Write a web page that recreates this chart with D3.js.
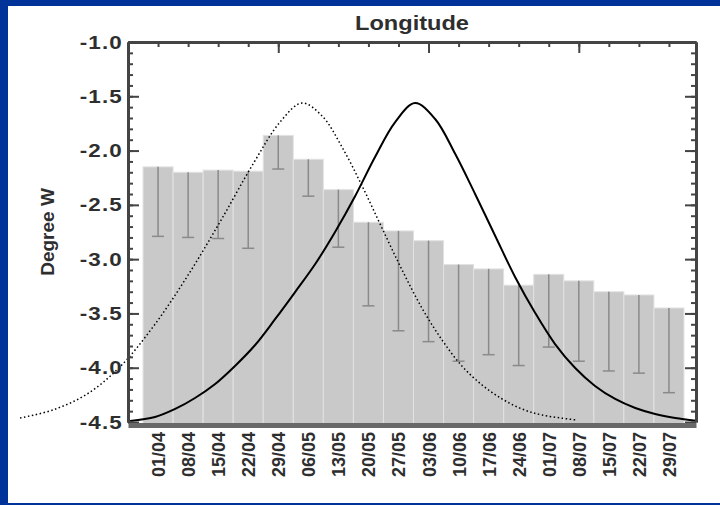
<!DOCTYPE html>
<html><head><meta charset="utf-8">
<script src="https://cdn.jsdelivr.net/npm/d3@7"></script>
<style>
body{margin:0;background:#003399;}
svg{display:block;}
</style>
</head><body>
<svg id="c" width="720" height="505"></svg>
<script>
// ---- data ----
const categories = ["01/04","08/04","15/04","22/04","29/04","06/05","13/05","20/05","27/05","03/06","10/06","17/06","24/06","01/07","08/07","15/07","22/07","29/07"];
const meanValues = [-2.15,-2.20,-2.18,-2.19,-1.86,-2.08,-2.36,-2.66,-2.74,-2.83,-3.05,-3.09,-3.24,-3.14,-3.20,-3.30,-3.33,-3.45];
const lowerValues = [-2.79,-2.80,-2.81,-2.90,-2.17,-2.42,-2.89,-3.43,-3.66,-3.76,-3.94,-3.88,-3.98,-3.81,-3.94,-4.03,-4.05,-4.23];
const yTickLabels = ["-1.0","-1.5","-2.0","-2.5","-3.0","-3.5","-4.0","-4.5"];
const yTickValues = [-1.0,-1.5,-2.0,-2.5,-3.0,-3.5,-4.0,-4.5];
const solidX = [0.07,0.90,1.57,2.23,2.90,3.56,4.23,4.90,5.56,6.23,6.89,7.56,8.22,8.89,9.55,10.22,10.89,11.55,12.22,12.88,13.55,14.21,14.88,15.54,16.21,16.88,17.54,18.21,18.90];
const solidY = [-4.491,-4.454,-4.380,-4.279,-4.150,-3.984,-3.791,-3.551,-3.303,-3.045,-2.750,-2.418,-2.059,-1.737,-1.562,-1.709,-2.032,-2.400,-2.787,-3.164,-3.496,-3.782,-4.003,-4.168,-4.288,-4.371,-4.426,-4.463,-4.489];
const dottedX = [-3.59,-2.50,-1.36,-0.27,0.83,1.96,3.06,4.16,5.06,5.79,6.46,7.12,7.79,8.45,9.12,9.78,10.45,11.11,11.78,12.45,13.11,13.78,14.94];
const dottedY = [-4.463,-4.389,-4.242,-3.993,-3.625,-3.164,-2.658,-2.124,-1.737,-1.562,-1.682,-1.967,-2.326,-2.713,-3.100,-3.450,-3.745,-3.984,-4.159,-4.288,-4.380,-4.436,-4.482];

// ---- layout ----
const svg = d3.select("#c");
svg.append("rect").attr("x",8).attr("y",6).attr("width",712).attr("height",497).attr("fill","#ffffff");

const L=128,R=696,T=42,B=422;
const x = d3.scaleLinear().domain([0,18.9]).range([L,R]);
const y = d3.scaleLinear().domain([-1,-4.5]).range([T,B]);
const axisColor="#444444", textColor="#2e2e2e";
const font="'Liberation Sans', Arial, sans-serif";

// bars
const g = svg.append("g");
g.selectAll("rect.bar").data(meanValues).enter().append("rect")
  .attr("x",(d,i)=>x(i+0.5)).attr("width",(d,i)=>x(i+1.5)-x(i+0.5))
  .attr("y",d=>y(d)).attr("height",d=>y(-4.5)-y(d)+2)
  .attr("fill","#c9c9c9").attr("stroke","#e2e2e2").attr("stroke-width",1);

// error bars
const eb = g.selectAll("g.eb").data(meanValues).enter().append("g").attr("stroke","#8a8a8a").attr("stroke-width",1.5);
eb.append("line").attr("x1",(d,i)=>x(i+1)).attr("x2",(d,i)=>x(i+1)).attr("y1",d=>y(d)).attr("y2",(d,i)=>y(lowerValues[i]));
eb.append("line").attr("x1",(d,i)=>x(i+1)-6).attr("x2",(d,i)=>x(i+1)+6).attr("y1",(d,i)=>y(lowerValues[i])).attr("y2",(d,i)=>y(lowerValues[i]));

// curves
const line = d3.line().x(d=>x(d[0])).y(d=>y(d[1])).curve(d3.curveCatmullRom.alpha(0.5));
svg.append("path").datum(solidX.map((v,i)=>[v,solidY[i]])).attr("d",line)
  .attr("fill","none").attr("stroke","#000").attr("stroke-width",2);
svg.append("path").datum(dottedX.map((v,i)=>[v,dottedY[i]])).attr("d",line)
  .attr("fill","none").attr("stroke","#000").attr("stroke-width",1.5).attr("stroke-dasharray","1.5,2.5");

// axes
const minorY = d3.range(-1.0,-4.55,-0.1).map(v=>+v.toFixed(1));
function styleAxis(sel){
  sel.select(".domain").attr("stroke",axisColor).attr("stroke-width",3);
  sel.selectAll(".tick line").attr("stroke",axisColor).attr("stroke-width",2);
  sel.selectAll("text").attr("fill",textColor).attr("font-family",font).attr("font-weight","bold");
}
// left
svg.append("g").attr("transform",`translate(${L},0)`)
  .call(d3.axisLeft(y).tickValues(minorY).tickFormat("").tickSize(-5).tickSizeOuter(0)).call(styleAxis);
const la = svg.append("g").attr("transform",`translate(${L},0)`)
  .call(d3.axisLeft(y).tickValues(yTickValues).tickFormat((d,i)=>yTickLabels[i]).tickSize(-11).tickSizeOuter(0).tickPadding(5));
styleAxis(la);
la.selectAll(".tick text").attr("font-size",19).attr("letter-spacing",1)
  .attr("transform","scale(1.18,1)").attr("x",-5/1.18);
// right
svg.append("g").attr("transform",`translate(${R},0)`)
  .call(d3.axisRight(y).tickValues(yTickValues).tickFormat("").tickSize(-11).tickSizeOuter(0)).call(styleAxis);
svg.append("g").attr("transform",`translate(${R},0)`)
  .call(d3.axisRight(y).tickValues(minorY).tickFormat("").tickSize(-5).tickSizeOuter(0)).call(styleAxis);
// top
svg.append("g").attr("transform",`translate(0,${T})`)
  .call(d3.axisTop(x).tickValues([5,10,15]).tickFormat("").tickSize(-11).tickSizeOuter(0)).call(styleAxis);
svg.append("g").attr("transform",`translate(0,${T})`)
  .call(d3.axisTop(x).tickValues(d3.range(1,19)).tickFormat("").tickSize(-5).tickSizeOuter(0)).call(styleAxis);
// bottom
const ba = svg.append("g").attr("transform",`translate(0,${B+3})`)
  .call(d3.axisBottom(x).tickValues(d3.range(1,19)).tickFormat((d)=>categories[d-1]).tickSize(0).tickSizeOuter(0));
styleAxis(ba);
ba.select(".domain").attr("stroke-width",5).attr("stroke","#686868");
ba.selectAll("text").attr("font-size",18).attr("text-anchor","end")
  .attr("transform","rotate(-90)").attr("x",-7).attr("y",0).attr("dy","0.36em");

// title and y label
svg.append("text").attr("transform",`translate(${(L+R)/2},30) scale(1.18,1)`).attr("text-anchor","middle")
  .attr("font-family",font).attr("font-weight","bold").attr("font-size",20).attr("fill",textColor).text("Longitude");
svg.append("text").attr("transform",`translate(54,${(T+B)/2}) rotate(-90)`).attr("text-anchor","middle")
  .attr("font-family",font).attr("font-weight","bold").attr("font-size",19).attr("fill",textColor).text("Degree W");
</script>
</body></html>
